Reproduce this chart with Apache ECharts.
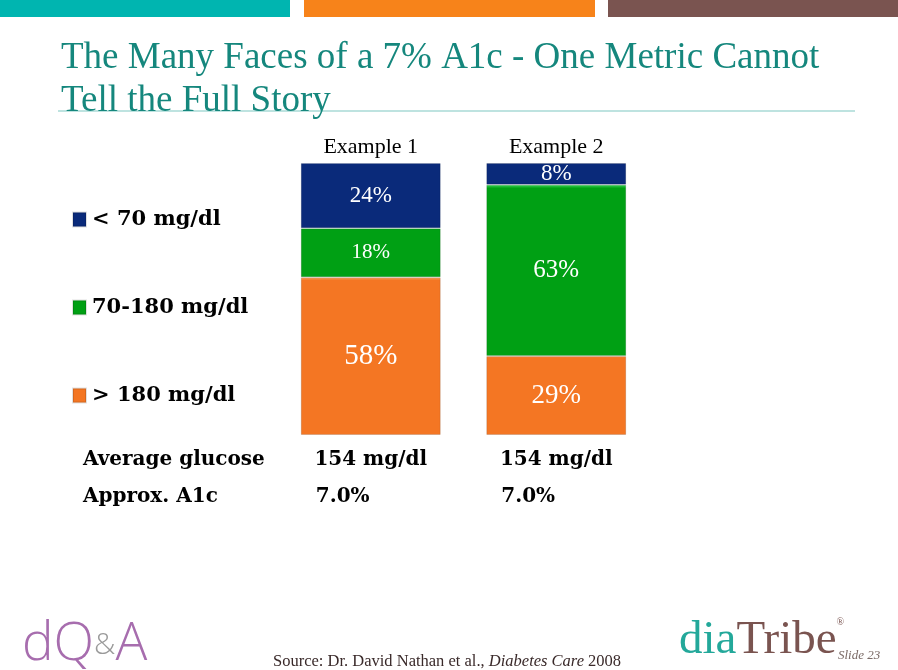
<!DOCTYPE html>
<html><head><meta charset="utf-8">
<script src="https://cdn.jsdelivr.net/npm/echarts@6/dist/echarts.min.js"></script>
<style>html,body{margin:0;padding:0;background:#fff}#c{width:898px;height:670px}</style>
</head><body><div id="c"></div>
<script>
const categories = ['Example 1', 'Example 2'];
const seriesNames = ['> 180 mg/dl', '70-180 mg/dl', '< 70 mg/dl'];
const above180 = [58, 29];
const inRange = [18, 63];
const below70 = [24, 8];
const legendOrder = ['< 70 mg/dl', '70-180 mg/dl', '> 180 mg/dl'];
const rowLabels = ['Average glucose', 'Approx. A1c'];
const avgGlucose = ['154 mg/dl', '154 mg/dl'];
const approxA1c = ['7.0%', '7.0%'];
const titleText = 'The Many Faces of a 7% A1c - One Metric Cannot\nTell the Full Story';

const serif = 'Liberation Serif';
const colors = { hi: '#F47623', mid: '#00A014', lo: '#0A2A7A' };
const edge = { hi: '#F9A56A', mid: '#3CD65A', lo: '#3A5AA8' };
const labelSizes = { hi: [29, 27], mid: [21, 25], lo: [23, 23] };

function mkData(vals, key) {
  return vals.map((v, i) => ({ value: v, label: { fontSize: labelSizes[key][i] } }));
}
function mkSeries(name, vals, key) {
  return {
    name, type: 'bar', stack: 'a', barWidth: 140,
    data: mkData(vals, key),
    itemStyle: {
      color: { type: 'linear', x: 0, y: 0, x2: 0, y2: 1,
        colorStops: [{ offset: 0, color: edge[key] }, { offset: 0.02, color: colors[key] }, { offset: 1, color: colors[key] }] },
      borderColor: 'rgba(0,0,0,0.12)', borderWidth: 1 },
    label: { show: true, position: 'inside', color: '#fff', fontFamily: serif,
      formatter: p => p.value + '%' },
    emphasis: { disabled: true }
  };
}

const chart = echarts.init(document.getElementById('c'));
chart.setOption({
  animation: false,
  title: { text: titleText, left: 56, top: 32,
    textStyle: { fontFamily: serif, fontSize: 37, fontWeight: 'normal', color: '#15877D', lineHeight: 43 } },
  legend: {
    data: legendOrder, orient: 'vertical', left: 67, top: 204, itemWidth: 13, itemHeight: 14,
    itemGap: 67, icon: 'rect', selectedMode: false,
    textStyle: { fontFamily: 'DejaVu Serif', fontWeight: 'bold', fontSize: 21, color: '#000', padding: [0,0,0,1] }
  },
  grid: { left: 278, width: 371, top: 163, height: 272 },
  xAxis: { type: 'category', data: categories, position: 'top',
    axisLine: { show: false }, axisTick: { show: false },
    axisLabel: { fontFamily: serif, fontSize: 22, color: '#000', margin: 5 } },
  yAxis: { type: 'value', min: 0, max: 100, show: false },
  series: [
    mkSeries(seriesNames[0], above180, 'hi'),
    mkSeries(seriesNames[1], inRange, 'mid'),
    mkSeries(seriesNames[2], below70, 'lo')
  ]
});

const xs = categories.map(c => chart.convertToPixel({ xAxisIndex: 0 }, c));
const tStyle = { fontFamily: 'DejaVu Serif', fontWeight: 'bold', fontSize: 20, fill: '#000' };
const g = [
  { type: 'rect', shape: { x: 0, y: 0, width: 290, height: 17 }, style: { fill: '#00B5B0' } },
  { type: 'rect', shape: { x: 304, y: 0, width: 291, height: 17 }, style: { fill: '#F7831A' } },
  { type: 'rect', shape: { x: 608, y: 0, width: 290, height: 17 }, style: { fill: '#7A5450' } },
  { type: 'line', shape: { x1: 58, y1: 111, x2: 855, y2: 111 }, style: { stroke: '#A9DAD6', lineWidth: 1.5 } },
  { type: 'text', x: 83, y: 460, style: Object.assign({ text: rowLabels[0], textVerticalAlign: 'middle' }, tStyle) },
  { type: 'text', x: 83, y: 497, style: Object.assign({ text: rowLabels[1], textVerticalAlign: 'middle' }, tStyle) },
  { type: 'text', x: 22, y: 645, style: { text: '{p|dQ}{g|&}{p|A}', textVerticalAlign: 'middle',
      rich: { p: { fontFamily: 'Open Sans', fontSize: 53, fontWeight: 300, fill: '#A76DAE' },
              g: { fontFamily: 'Open Sans', fontSize: 30, fontWeight: 300, fill: '#9A9A9A' } } } },
  { type: 'text', x: 679, y: 641, style: { text: '{t|dia}{b|Tribe}{r|®}', textVerticalAlign: 'middle',
      rich: { t: { fontFamily: serif, fontSize: 47, fill: '#23A89A' },
              b: { fontFamily: serif, fontSize: 47, fill: '#7A5450' },
              r: { fontFamily: serif, fontSize: 10, fill: '#7A5450', verticalAlign: 'top' } } } },
  { type: 'text', x: 838, y: 656, style: { text: 'Slide 23', textVerticalAlign: 'middle',
      fontFamily: serif, fontStyle: 'italic', fontSize: 13, fill: '#7A6A66' } },
  { type: 'text', x: 273, y: 662, style: { text: '{n|Source: Dr. David Nathan et al., }{i|Diabetes Care}{n| 2008}', textVerticalAlign: 'middle',
      rich: { n: { fontFamily: serif, fontSize: 16.5, fill: '#3A2A2A' },
              i: { fontFamily: serif, fontSize: 16.5, fontStyle: 'italic', fill: '#3A2A2A' } } } }
];
xs.forEach((x, i) => {
  g.push({ type: 'text', x: x, y: 460, style: Object.assign({ text: avgGlucose[i], textAlign: 'center', textVerticalAlign: 'middle' }, tStyle) });
  g.push({ type: 'text', x: x - 55, y: 497, style: Object.assign({ text: approxA1c[i], textVerticalAlign: 'middle' }, tStyle) });
});
chart.setOption({ graphic: g });
</script></body></html>
